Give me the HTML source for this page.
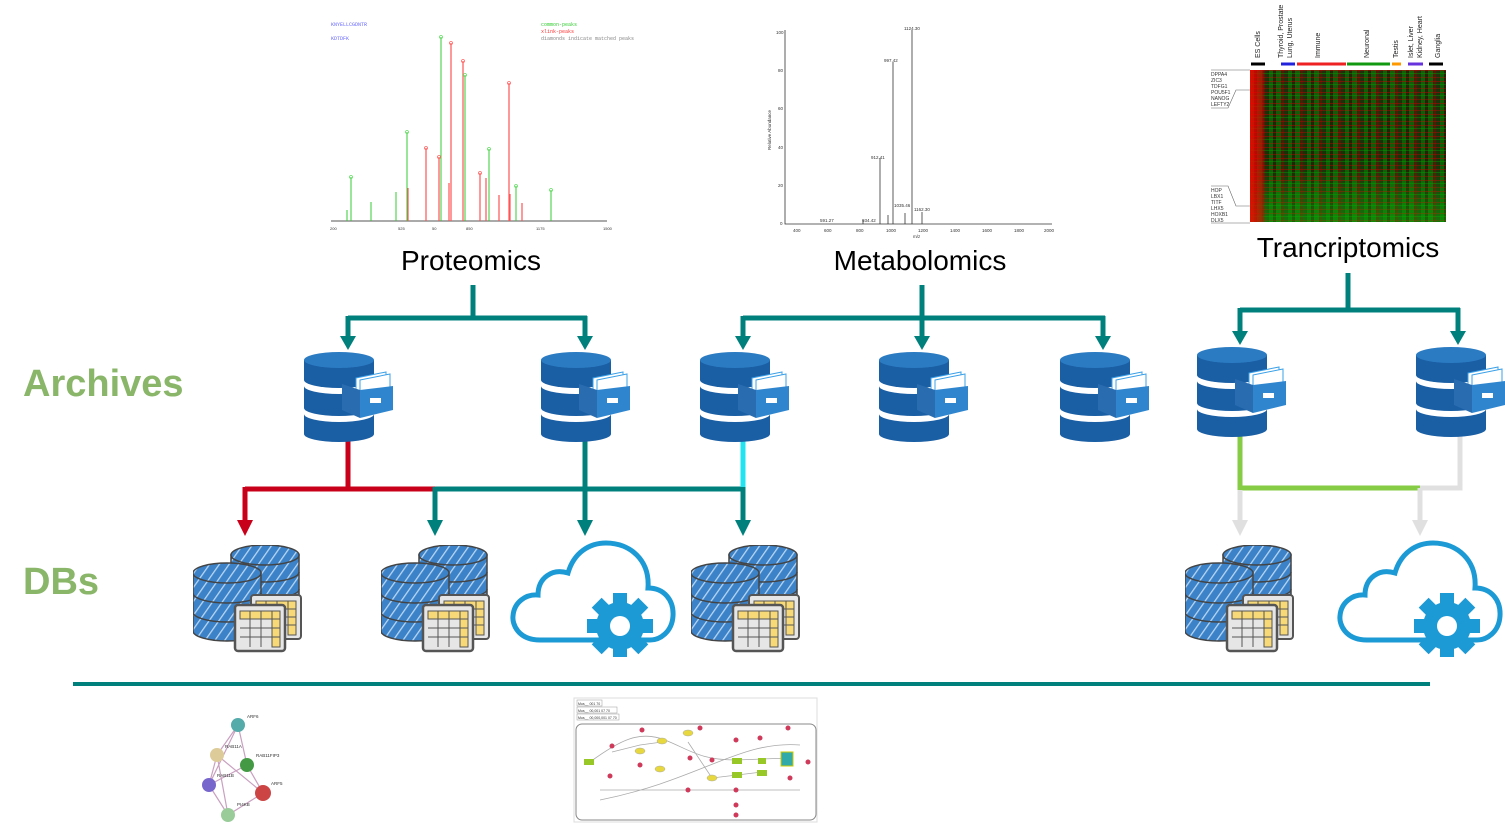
<!DOCTYPE html>
<html><head><meta charset="utf-8"><style>
html,body{margin:0;padding:0;background:#fff;}
body{width:1505px;height:834px;overflow:hidden;position:relative;font-family:"Liberation Sans",sans-serif;}
.heat{position:absolute;left:1250px;top:70px;width:196px;height:152px;
background:
linear-gradient(90deg,rgba(255,0,0,.85) 0,rgba(220,0,0,.6) 12px,rgba(0,0,0,0) 15px),
linear-gradient(180deg,rgba(0,0,0,0) 0,rgba(0,0,0,0) 100px,rgba(0,200,0,.35) 152px),
repeating-linear-gradient(180deg,rgba(200,0,0,.45) 0 1px,rgba(0,0,0,0) 1px 3px,rgba(0,170,0,.4) 3px 4px,rgba(0,0,0,0) 4px 7px,rgba(220,0,0,.35) 7px 8px,rgba(0,0,0,0) 8px 11px),
repeating-linear-gradient(90deg,rgba(0,150,0,.45) 0 4px,rgba(60,0,0,.3) 4px 7px,rgba(0,190,0,.3) 7px 12px,rgba(150,0,0,.4) 12px 15px,rgba(0,0,0,0) 15px 19px),
linear-gradient(180deg,#1f300c,#173208 60%,#244410);}
</style></head><body>
<svg width="1505" height="834" viewBox="0 0 1505 834" xmlns="http://www.w3.org/2000/svg" style="position:absolute;left:0;top:0">
<defs>
<pattern id="st" width="8" height="8" patternUnits="userSpaceOnUse" patternTransform="rotate(35)">
<rect width="8" height="8" fill="#3b82c8"/><rect width="1.3" height="8" fill="#b9d6f2"/></pattern>
<symbol id="arch" viewBox="0 0 90 90">
<path d="M0 8 v20 a35 8 0 0 0 70 0 v-20z" fill="#1a5ea4"/>
<ellipse cx="35" cy="8" rx="35" ry="8" fill="#2b7bc2"/>
<path d="M0 34 v22 a35 8 0 0 0 70 0 v-22 a35 8 0 0 1 -70 0z" fill="#1a5ea4"/>
<path d="M0 62 v20 a35 8 0 0 0 70 0 v-20 a35 8 0 0 1 -70 0z" fill="#1a5ea4"/>
<path d="M52 26 l30 -6 v24 l-30 6z" fill="#fff" stroke="#3aa0e8" stroke-width="1"/>
<path d="M56 28 l30 -6 v24 l-30 6z" fill="#fff" stroke="#3aa0e8" stroke-width="1"/>
<path d="M38 32 l18 6 v28 l-18 -8z" fill="#2a6cb0"/>
<path d="M56 38 l33 -4 v24 l-33 8z" fill="#2f86cf"/>
<rect x="66" y="46" width="11" height="5" fill="#fff"/>
</symbol>
<symbol id="dbs" viewBox="0 0 110 110">
<path d="M38 10 v50 a34 10 0 0 0 68 0 v-50z" fill="url(#st)" stroke="#444" stroke-width="1.5"/>
<ellipse cx="72" cy="10" rx="34" ry="10" fill="url(#st)" stroke="#444" stroke-width="1.5"/>
<path d="M38 27 a34 10 0 0 0 68 0 M38 44 a34 10 0 0 0 68 0" fill="none" stroke="#444" stroke-width="1.5"/>
<path d="M0 28 v58 a34 10 0 0 0 68 0 v-58z" fill="url(#st)" stroke="#444" stroke-width="1.5"/>
<ellipse cx="34" cy="28" rx="34" ry="10" fill="url(#st)" stroke="#444" stroke-width="1.5"/>
<path d="M0 48 a34 10 0 0 0 68 0 M0 67 a34 10 0 0 0 68 0" fill="none" stroke="#444" stroke-width="1.5"/>
<g stroke="#555" stroke-width="1">
<rect x="58" y="50" width="50" height="44" rx="3" fill="#e6e6e6" stroke-width="2"/>
<rect x="63" y="56" width="40" height="8" fill="#f7d977"/><rect x="95" y="56" width="8" height="34" fill="#f7d977"/>
<path d="M63 64 h40 M63 72 h40 M63 80 h40 M73 56 v34 M84 56 v34 M95 56 v34" fill="none"/>
<rect x="42" y="60" width="50" height="46" rx="3" fill="#e6e6e6" stroke-width="2.5"/>
<rect x="47" y="66" width="40" height="8" fill="#f7d977"/><rect x="79" y="66" width="8" height="36" fill="#f7d977"/>
<path d="M47 74 h40 M47 83 h40 M47 92 h40 M57 66 v36 M68 66 v36 M79 66 v36" fill="none"/>
</g>
</symbol>
<symbol id="cloud" viewBox="0 0 166 117">
<path d="M30 100 C8 100 2 84 3 76 C4 62 16 54 28 55 C28 38 42 28 58 33 C64 12 80 3 96 3 C120 3 140 20 138 48 C154 48 164 60 163 76 C162 92 150 100 140 100 Z" fill="none" stroke="#1c9ad6" stroke-width="5"/>
<g transform="translate(110,86)" fill="#1c9ad6">
<circle r="24"/>
<g id="t"><rect x="-7" y="-33" width="14" height="14"/></g>
<use href="#t" transform="rotate(45)"/><use href="#t" transform="rotate(90)"/><use href="#t" transform="rotate(135)"/>
<use href="#t" transform="rotate(180)"/><use href="#t" transform="rotate(225)"/><use href="#t" transform="rotate(270)"/><use href="#t" transform="rotate(315)"/>
<circle r="10" fill="#fff"/>
</g>
</symbol>
</defs>

<!-- proteomics spectrum -->
<g font-family="Liberation Mono,monospace" font-size="5">
<text x="331" y="26" fill="#6666ff">KNYELLCGDNTR</text>
<text x="331" y="40" fill="#6666ff">KDTDFK</text>
<text x="541" y="26" fill="#33cc33">common-peaks</text>
<text x="541" y="33" fill="#ff3333">xlink-peaks</text>
<text x="541" y="40" fill="#888">diamonds indicate matched peaks</text>
</g>
<line x1="331" y1="221" x2="607" y2="221" stroke="#555" stroke-width="1"/>
<g font-size="4" fill="#333"><text x="330" y="230">200</text><text x="398" y="230">525</text><text x="432" y="230">50</text><text x="466" y="230">850</text><text x="536" y="230">1175</text><text x="603" y="230">1500</text></g>
<g stroke="#33cc33" stroke-width="1">
<line x1="351" y1="221" x2="351" y2="177"/><line x1="407" y1="221" x2="407" y2="132"/><line x1="441" y1="221" x2="441" y2="37"/><line x1="465" y1="221" x2="465" y2="75"/><line x1="489" y1="221" x2="489" y2="149"/><line x1="516" y1="221" x2="516" y2="186"/><line x1="551" y1="221" x2="551" y2="190"/><line x1="371" y1="221" x2="371" y2="202"/><line x1="396" y1="221" x2="396" y2="192"/><line x1="347" y1="221" x2="347" y2="210"/>
</g>
<g stroke="#ff5555" stroke-width="1.2">
<line x1="426" y1="221" x2="426" y2="148"/><line x1="439" y1="221" x2="439" y2="157"/><line x1="451" y1="221" x2="451" y2="43"/><line x1="463" y1="221" x2="463" y2="61"/><line x1="509" y1="221" x2="509" y2="83"/><line x1="480" y1="221" x2="480" y2="173"/><line x1="486" y1="221" x2="486" y2="178"/><line x1="499" y1="221" x2="499" y2="195"/><line x1="510" y1="221" x2="510" y2="194"/><line x1="522" y1="221" x2="522" y2="203"/><line x1="408" y1="221" x2="408" y2="188"/><line x1="449" y1="221" x2="449" y2="183"/>
</g>
<g fill="none" stroke-width=".8">
<g stroke="#66dd66"><circle cx="351" cy="177" r="1.5"/><circle cx="407" cy="132" r="1.5"/><circle cx="441" cy="37" r="1.5"/><circle cx="465" cy="75" r="1.5"/><circle cx="489" cy="149" r="1.5"/><circle cx="516" cy="186" r="1.5"/><circle cx="551" cy="190" r="1.5"/></g>
<g stroke="#ff6666"><circle cx="426" cy="148" r="1.5"/><circle cx="439" cy="157" r="1.5"/><circle cx="451" cy="43" r="1.5"/><circle cx="463" cy="61" r="1.5"/><circle cx="509" cy="83" r="1.5"/><circle cx="480" cy="173" r="1.5"/></g>
</g>

<!-- metabolomics spectrum -->
<g stroke="#333" stroke-width="0.8" fill="none">
<path d="M785 30 V224 H1052"/>
<line x1="912" y1="224" x2="912" y2="30"/><line x1="893" y1="224" x2="893" y2="62"/><line x1="880" y1="224" x2="880" y2="158"/><line x1="922" y1="224" x2="922" y2="212"/><line x1="905" y1="224" x2="905" y2="213"/><line x1="863" y1="224" x2="863" y2="220"/><line x1="888" y1="224" x2="888" y2="215"/>
</g>
<g font-size="4.5" fill="#333">
<text x="904" y="30">1124.30</text><text x="884" y="62">997.42</text><text x="871" y="159">912.41</text><text x="894" y="207">1035.46</text><text x="914" y="211">1162.30</text><text x="820" y="222">591.27</text><text x="862" y="222">934.42</text>
<text x="793" y="232">400</text><text x="824" y="232">600</text><text x="856" y="232">800</text><text x="886" y="232">1000</text><text x="918" y="232">1200</text><text x="950" y="232">1400</text><text x="982" y="232">1600</text><text x="1014" y="232">1800</text><text x="1044" y="232">2000</text>
<text x="913" y="238">m/z</text>
<text transform="translate(771,150) rotate(-90)">Relative Abundance</text>
<text x="776" y="34">100</text><text x="778" y="72">80</text><text x="778" y="110">60</text><text x="778" y="149">40</text><text x="778" y="187">20</text><text x="780" y="225">0</text>
</g>

<!-- transcriptomics labels -->
<g font-size="7" fill="#222">
<text transform="translate(1260,58) rotate(-90)">ES Cells</text>
<text transform="translate(1283,58) rotate(-90)">Thyroid, Prostate</text>
<text transform="translate(1292,58) rotate(-90)">Lung, Uterus</text>
<text transform="translate(1320,58) rotate(-90)">Immune</text>
<text transform="translate(1369,58) rotate(-90)">Neuronal</text>
<text transform="translate(1398,58) rotate(-90)">Testis</text>
<text transform="translate(1413,58) rotate(-90)">Islet, Liver</text>
<text transform="translate(1422,58) rotate(-90)">Kidney, Heart</text>
<text transform="translate(1440,58) rotate(-90)">Ganglia</text>
</g>
<g stroke-width="3">
<line x1="1251" y1="64" x2="1265" y2="64" stroke="#000"/><line x1="1281" y1="64" x2="1295" y2="64" stroke="#22d"/><line x1="1297" y1="64" x2="1346" y2="64" stroke="#e22"/><line x1="1347" y1="64" x2="1390" y2="64" stroke="#191"/><line x1="1392" y1="64" x2="1401" y2="64" stroke="#f90"/><line x1="1408" y1="64" x2="1423" y2="64" stroke="#63d"/><line x1="1429" y1="64" x2="1443" y2="64" stroke="#000"/>
</g>
<g font-size="5" fill="#333"><text x="1211" y="76">DPPA4</text><text x="1211" y="82">ZIC3</text><text x="1211" y="88">TDFG1</text><text x="1211" y="94">POU5F1</text><text x="1211" y="100">NANOG</text><text x="1211" y="106">LEFTY2</text>
<text x="1211" y="192">HOP</text><text x="1211" y="198">LBX1</text><text x="1211" y="204">TITF</text><text x="1211" y="210">LHX5</text><text x="1211" y="216">HOXB1</text><text x="1211" y="222">DLX5</text></g>
<g stroke="#666" stroke-width=".6" fill="none"><path d="M1211 70 H1250 M1211 108 H1228 L1236 90 H1250 M1211 186 H1228 L1236 206 H1250 M1211 223 H1250"/></g>

<!-- titles -->
<g font-size="28" fill="#000" text-anchor="middle">
<text x="471" y="270">Proteomics</text><text x="920" y="270">Metabolomics</text><text x="1348" y="257">Trancriptomics</text>
</g>
<g font-size="38" font-weight="bold" fill="#8ab66a"><text x="23" y="396">Archives</text><text x="23" y="594">DBs</text></g>

<!-- top connectors -->
<g stroke="#00807d" stroke-width="5" fill="none">
<path d="M473 285 V318 M348 318 H587 M348 316 V338 M585 316 V338"/>
<path d="M922 285 V318 M743 318 H1105 M743 316 V338 M922 316 V338 M1103 316 V338"/>
<path d="M1348 273 V310 M1240 310 H1460 M1240 308 V333 M1458 308 V333"/>
</g>
<g fill="#00807d">
<path d="M340 336 h16 l-8 14z"/><path d="M577 336 h16 l-8 14z"/><path d="M735 336 h16 l-8 14z"/><path d="M914 336 h16 l-8 14z"/><path d="M1095 336 h16 l-8 14z"/><path d="M1232 331 h16 l-8 14z"/><path d="M1450 331 h16 l-8 14z"/>
</g>

<!-- lower connectors -->
<g fill="none" stroke-width="5">
<path d="M348 438 V489 H435 M245 489 H350 M245 487 V522" stroke="#c8001a"/>
<path d="M585 438 V489 M435 489 H745 M435 487 V522 M585 487 V522 M743 487 V522" stroke="#00807d"/>
<path d="M743 438 V487" stroke="#22e4f0"/>
<path d="M1240 434 V488 H1420" stroke="#86cc44"/>
<path d="M1420 488 H1460 V434 M1420 488 V522 M1240 490 V522" stroke="#e0e0e0"/>
</g>
<path d="M237 520 h16 l-8 16z" fill="#c8001a"/>
<g fill="#00807d"><path d="M427 520 h16 l-8 16z"/><path d="M577 520 h16 l-8 16z"/><path d="M735 520 h16 l-8 16z"/></g>
<g fill="#e0e0e0"><path d="M1232 520 h16 l-8 16z"/><path d="M1412 520 h16 l-8 16z"/></g>

<!-- archives -->
<use href="#arch" x="304" y="352" width="90" height="90"/>
<use href="#arch" x="541" y="352" width="90" height="90"/>
<use href="#arch" x="700" y="352" width="90" height="90"/>
<use href="#arch" x="879" y="352" width="90" height="90"/>
<use href="#arch" x="1060" y="352" width="90" height="90"/>
<use href="#arch" x="1197" y="347" width="90" height="90"/>
<use href="#arch" x="1416" y="347" width="90" height="90"/>

<!-- DBs -->
<use href="#dbs" x="193" y="545" width="110" height="110"/>
<use href="#dbs" x="381" y="545" width="110" height="110"/>
<use href="#dbs" x="691" y="545" width="110" height="110"/>
<use href="#dbs" x="1185" y="545" width="110" height="110"/>
<use href="#cloud" x="510" y="540" width="166" height="117"/>
<use href="#cloud" x="1337" y="540" width="166" height="117"/>

<line x1="73" y1="684" x2="1430" y2="684" stroke="#00807d" stroke-width="4"/>

<!-- network -->
<g stroke-width="1.2" fill="none">
<path d="M238 725 L217 755 L209 785 L228 815 L263 793 L247 765 Z M238 725 L247 765 M217 755 L263 793 M209 785 L247 765 M217 755 L228 815 M238 725 L209 785" stroke="#c9a0c0"/>
</g>
<circle cx="238" cy="725" r="7" fill="#5aa"/><circle cx="217" cy="755" r="7" fill="#dc9"/><circle cx="247" cy="765" r="7" fill="#494"/><circle cx="209" cy="785" r="7" fill="#76c"/><circle cx="263" cy="793" r="8" fill="#c44"/><circle cx="228" cy="815" r="7" fill="#9c9"/>
<g font-size="4.5" fill="#333"><text x="247" y="718">ARF6</text><text x="225" y="748">RAB11A</text><text x="256" y="757">RAB11FIP3</text><text x="217" y="777">RAB11B</text><text x="271" y="785">ARF5</text><text x="237" y="806">PI4KB</text></g>

<!-- pathway -->
<rect x="574" y="698" width="243" height="124" fill="#fff" stroke="#ddd"/>
<rect x="576" y="724" width="240" height="96" rx="6" fill="#fff" stroke="#888"/>
<g font-size="3.5" fill="#333"><rect x="577" y="700" width="25" height="6" fill="#fff" stroke="#999" stroke-width=".5"/><text x="578" y="705">Mus__ 001 70</text><rect x="577" y="707" width="40" height="6" fill="#fff" stroke="#999" stroke-width=".5"/><text x="578" y="712">Mus__ 00,001 07 70</text><rect x="577" y="714" width="42" height="6" fill="#fff" stroke="#999" stroke-width=".5"/><text x="578" y="719">Mus__ 00,000,001 07 70</text></g>
<g stroke="#aaa" stroke-width=".8" fill="none"><path d="M590 762 C620 740 640 730 665 740 C690 750 700 760 736 760 L790 758 M612 752 L640 745 L662 742 M688 742 L712 778 L737 775 L762 772 M600 790 L800 790 M600 800 C700 780 740 740 800 745"/></g>
<g fill="#d03a5a"><circle cx="612" cy="746" r="2.5"/><circle cx="642" cy="730" r="2.5"/><circle cx="610" cy="776" r="2.5"/><circle cx="640" cy="765" r="2.5"/><circle cx="690" cy="758" r="2.5"/><circle cx="712" cy="760" r="2.5"/><circle cx="688" cy="790" r="2.5"/><circle cx="736" cy="790" r="2.5"/><circle cx="736" cy="805" r="2.5"/><circle cx="760" cy="738" r="2.5"/><circle cx="788" cy="728" r="2.5"/><circle cx="808" cy="762" r="2.5"/><circle cx="790" cy="778" r="2.5"/><circle cx="736" cy="740" r="2.5"/><circle cx="700" cy="728" r="2.5"/><circle cx="736" cy="815" r="2.5"/></g>
<g fill="#e8d840" stroke="#aa9" stroke-width=".5"><ellipse cx="640" cy="751" rx="5" ry="3"/><ellipse cx="662" cy="741" rx="5" ry="3"/><ellipse cx="688" cy="733" rx="5" ry="3"/><ellipse cx="712" cy="778" rx="5" ry="3"/><ellipse cx="660" cy="769" rx="5" ry="3"/></g>
<g fill="#98c828"><rect x="584" y="759" width="10" height="6"/><rect x="732" y="758" width="10" height="6"/><rect x="732" y="772" width="10" height="6"/><rect x="757" y="770" width="10" height="6"/><rect x="758" y="758" width="8" height="6"/></g>
<rect x="781" y="752" width="12" height="14" fill="#3aa" stroke="#cc0" stroke-width="1"/>
</svg>
<div class="heat"></div>
</body></html>
